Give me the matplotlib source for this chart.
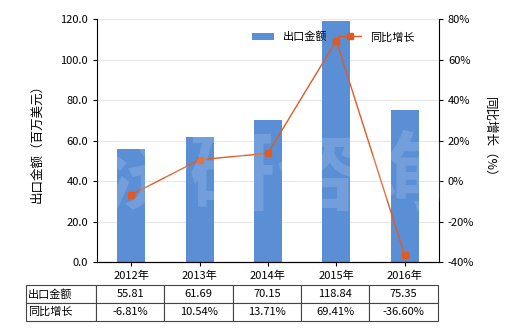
import matplotlib
matplotlib.use("Agg")
import matplotlib.pyplot as plt
from matplotlib.ticker import FuncFormatter

plt.rcParams['font.family'] = ['Noto Sans CJK SC', 'DejaVu Sans']

# data
years = ["2012年", "2013年", "2014年", "2015年", "2016年"]
export = [55.81, 61.69, 70.15, 118.84, 75.35]
growth = [-6.81, 10.54, 13.71, 69.41, -36.60]

bar_color = "#5A8ED5"
line_color = "#E05B24"

fig = plt.figure(figsize=(5.2, 3.3), dpi=100)
ax = fig.add_axes([0.1865, 0.206, 0.6575, 0.736])
x = range(len(years))

ax.bar(x, export, width=0.41, color=bar_color, label="出口金额", zorder=2)
ax.set_ylim(0, 120)
ax.set_xlim(-0.5, len(years) - 0.5)
ax.set_yticks(range(0, 121, 20))
ax.yaxis.set_major_formatter(FuncFormatter(lambda v, p: f"{v:.1f}"))
ax.set_xticks(list(x))
ax.set_xticklabels(years)
ax.grid(axis="y", color="#e6e6e6", linewidth=0.8, zorder=0)
ax.set_ylabel("出口金额（百万美元）", fontsize=9, labelpad=12)
for s in ["top", "right"]:
    ax.spines[s].set_visible(False)
ax.tick_params(labelsize=8, length=3)

ax2 = ax.twinx()
ax2.plot(x, growth, color=line_color, marker="s", markersize=4, linewidth=1, label="同比增长", zorder=3)
ax2.set_ylim(-40, 80)
ax2.set_yticks(range(-40, 81, 20))
ax2.yaxis.set_major_formatter(FuncFormatter(lambda v, p: f"{v:.0f}%"))
ax2.set_ylabel("同比增长（%）", fontsize=9, rotation=-90, labelpad=16)
for s in ["top", "left"]:
    ax2.spines[s].set_visible(False)
ax2.tick_params(labelsize=8, length=3)

# watermark
fig.text(0.53, 0.46, "济研咨询", fontsize=62, color="white", alpha=0.15,
         ha="center", va="center", fontweight="bold", zorder=10)

h1, l1 = ax.get_legend_handles_labels()
h2, l2 = ax2.get_legend_handles_labels()
ax2.legend(h1 + h2, l1 + l2, ncol=2, frameon=False, fontsize=8,
           loc="upper center", bbox_to_anchor=(0.69, 0.99), handlelength=2.0,
           columnspacing=1.0)

# table
tax = fig.add_axes([0.05, 0.027, 0.792, 0.109])
tax.axis("off")
rows = [["出口金额"] + [f"{v:.2f}" for v in export],
        ["同比增长"] + [f"{v:.2f}%" for v in growth]]
first = 70 / 412
other = (1 - first) / 5
tbl = tax.table(cellText=rows, colWidths=[first] + [other] * 5,
                bbox=[0, 0, 1, 1], cellLoc="center")
tbl.auto_set_font_size(False)
tbl.set_fontsize(8)
for (r, c), cell in tbl.get_celld().items():
    cell.set_edgecolor("#444444")
    cell.set_linewidth(0.8)
    if c == 0:
        cell.set_text_props(ha="left")
        cell.PAD = 0.03

fig.savefig("out.png", dpi=100)
